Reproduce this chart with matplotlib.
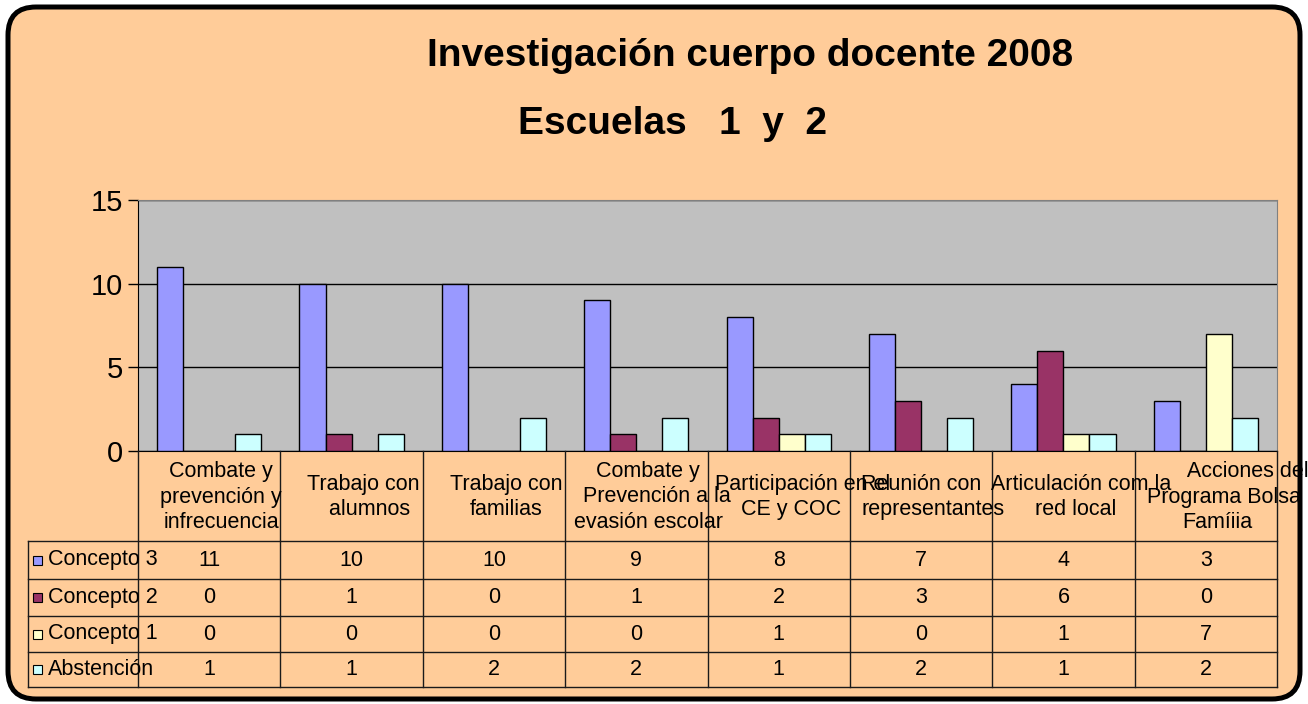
import matplotlib
matplotlib.use('Agg')
import matplotlib.pyplot as plt
import matplotlib.patches as mpatches
import numpy as np

# ── Palette (Excel 2003 defaults) ──
BG, PLOT_BG = '#FFCC99', '#C0C0C0'
C3, C2, C1, AB = '#9999FF', '#993366', '#FFFFCC', '#CCFFFF'
LINE = '#1a1a1a'

plt.rcParams['font.family'] = ['Liberation Sans', 'DejaVu Sans']

# ── Data ──
categories = [
    'Combate y\nprevención y\ninfrecuencia',
    'Trabajo con\n  alumnos',
    'Trabajo con\nfamilias',
    'Combate y\n   Prevención a la\nevasión escolar',
    '    Participación en el\nCE y COC',
    'Reunión con    \nrepresentantes',
    '  Articulación com la\nred local',
    '          Acciones del\n  Programa Bolsa\nFamíiia',
]
series_names = ['Concepto 3', 'Concepto 2', 'Concepto 1', 'Abstención']
concepto3 = [11, 10, 10, 9, 8, 7, 4, 3]
concepto2 = [0, 1, 0, 1, 2, 3, 6, 0]
concepto1 = [0, 0, 0, 0, 1, 0, 1, 7]
abstencion = [1, 1, 2, 2, 1, 2, 1, 2]
series = [concepto3, concepto2, concepto1, abstencion]
colors = [C3, C2, C1, AB]

W, H = 1308, 704
fig = plt.figure(figsize=(W / 100, H / 100), dpi=100)
fig.patch.set_facecolor('white')

# ── Background frame (pixel coords) ──
bg = fig.add_axes([0, 0, 1, 1])
bg.set_xlim(0, W)
bg.set_ylim(H, 0)
bg.axis('off')
bg.add_patch(mpatches.FancyBboxPatch(
    (8, 7), 1292, 692, boxstyle='round,pad=0,rounding_size=28',
    facecolor=BG, edgecolor='black', linewidth=3.6))
bg.text(750, 56, 'Investigación cuerpo docente 2008', ha='center', va='center',
        fontsize=28, fontweight='bold')
bg.text(672, 124, 'Escuelas   1  y  2', ha='center', va='center',
        fontsize=28, fontweight='bold')

# ── Chart ──
x0, x1, ytop, ybot = 138, 1277, 200, 451
ax = fig.add_axes([x0 / W, 1 - ybot / H, (x1 - x0) / W, (ybot - ytop) / H])
ax.set_facecolor(PLOT_BG)
x = np.arange(len(categories))
bw = 0.183
for k, (vals, col) in enumerate(zip(series, colors)):
    ax.bar(x + (k - 1.5) * bw, vals, bw, color=col, edgecolor='black',
           linewidth=1, zorder=3)
ax.set_xlim(-0.5, len(categories) - 0.5)
ax.set_ylim(0, 15)
ax.set_yticks([0, 5, 10, 15])
ax.set_xticks([])
ax.yaxis.grid(True, color='black', linewidth=1)
ax.set_axisbelow(True)
ax.tick_params(axis='y', labelsize=21, length=7, width=1, pad=4)
for s in ['top', 'right']:
    ax.spines[s].set_color('#808080')
for s in ['left', 'bottom']:
    ax.spines[s].set_color('black')

# ── Data table ──
colw = (x1 - x0) / len(categories)
tab_bot = 687
tax = fig.add_axes([x0 / W, 1 - tab_bot / H, (x1 - x0) / W, (tab_bot - ybot) / H])
tax.set_xlim(-0.5, len(categories) - 0.5)
tax.set_ylim(tab_bot - ybot, 0)
tax.axis('off')
rows = [0, 90, 128, 165, 201, 236]
xl = -0.5 - (x0 - 28) / colw
kw = dict(color=LINE, linewidth=1, clip_on=False)
for i in range(len(categories) + 1):
    tax.plot([i - 0.5, i - 0.5], [0, rows[-1]], **kw)
for r in rows[1:]:
    tax.plot([xl, len(categories) - 0.5], [r, r], **kw)
tax.plot([xl, xl], [rows[1], rows[-1]], **kw)

FS = 15.5
shift = 12 / colw
for i, lab in enumerate(categories):
    tax.text(i + shift, rows[1] / 2 + 1, lab, ha='center', va='center',
             multialignment='center', fontsize=FS, clip_on=False,
             linespacing=1.3)

for k, (name, vals, col) in enumerate(zip(series_names, series, colors)):
    yc = (rows[k + 1] + rows[k + 2]) / 2
    tax.add_patch(mpatches.Rectangle((xl + 5 / colw, yc - 4.5), 9 / colw, 9,
                                     facecolor=col, edgecolor='black',
                                     linewidth=0.8, clip_on=False))
    tax.text(xl + 20 / colw, yc, name, ha='left', va='center', fontsize=FS,
             clip_on=False)
    for i, v in enumerate(vals):
        tax.text(i, yc, str(v), ha='center', va='center', fontsize=FS)

fig.savefig('out.png', dpi=100, facecolor='white')
plt.close(fig)
